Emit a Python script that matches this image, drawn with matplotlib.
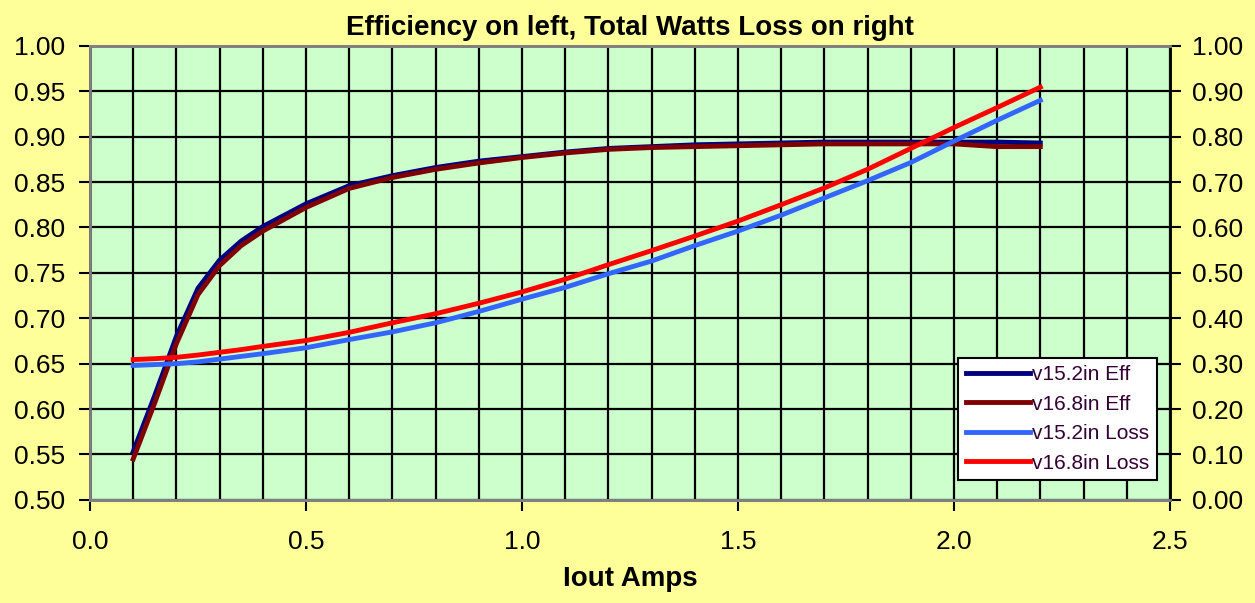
import matplotlib
matplotlib.use('Agg')
import matplotlib.pyplot as plt
from matplotlib.ticker import MultipleLocator

plt.rcParams['font.family'] = ['Liberation Sans', 'DejaVu Sans']

# Iout (A)
iout = [0.1, 0.15, 0.2, 0.25, 0.3, 0.35, 0.4,
        0.5, 0.6, 0.7, 0.8, 0.9, 1.0, 1.1, 1.2, 1.3, 1.4, 1.5,
        1.6, 1.7, 1.8, 1.9, 2.0, 2.1, 2.2]

# efficiency (left axis)
eff_152 = [0.553, 0.615, 0.680, 0.733, 0.764, 0.785, 0.801,
           0.826, 0.846, 0.857, 0.866, 0.873, 0.878, 0.883, 0.887, 0.889, 0.891, 0.892,
           0.893, 0.894, 0.894, 0.894, 0.894, 0.894, 0.893]
eff_168 = [0.545, 0.607, 0.672, 0.726, 0.758, 0.780, 0.796,
           0.822, 0.843, 0.855, 0.864, 0.871, 0.877, 0.882, 0.886, 0.888, 0.889, 0.890,
           0.891, 0.892, 0.892, 0.892, 0.892, 0.889, 0.889]

# total watts loss (right axis)
loss_152 = [0.296, 0.298, 0.300, 0.304, 0.310, 0.316, 0.322,
            0.335, 0.353, 0.370, 0.390, 0.415, 0.442, 0.468, 0.498, 0.526, 0.560, 0.592,
            0.627, 0.665, 0.703, 0.743, 0.790, 0.836, 0.880]
loss_168 = [0.309, 0.311, 0.314, 0.319, 0.325, 0.331, 0.338,
            0.351, 0.369, 0.390, 0.410, 0.433, 0.458, 0.486, 0.518, 0.549, 0.581, 0.614,
            0.650, 0.687, 0.728, 0.774, 0.820, 0.864, 0.909]

fig = plt.figure(figsize=(12.55, 6.03), dpi=100, facecolor='#FFFF99')
ax = fig.add_axes([0.0717, 0.171, 0.8605, 0.753])
ax.set_facecolor('#CCFFCC')
ax2 = ax.twinx()

l1, = ax.plot(iout, eff_152, color='#000080', lw=3.5, label='v15.2in Eff')
l2, = ax.plot(iout, eff_168, color='#800000', lw=3.5, label='v16.8in Eff')
l3, = ax2.plot(iout, loss_152, color='#3366FF', lw=3.5, label='v15.2in Loss')
l4, = ax2.plot(iout, loss_168, color='#FF0000', lw=3.5, label='v16.8in Loss')

ax.set_xlim(0, 2.5)
ax.set_ylim(0.5, 1.0)
ax2.set_ylim(0, 1.0)

ax.xaxis.set_major_locator(MultipleLocator(0.5))
ax.xaxis.set_minor_locator(MultipleLocator(0.1))
ax.yaxis.set_major_locator(MultipleLocator(0.05))
ax2.yaxis.set_major_locator(MultipleLocator(0.1))
ax.xaxis.set_major_formatter(lambda v, p: f'{v:.1f}')
ax.yaxis.set_major_formatter(lambda v, p: f'{v:.2f}')
ax2.yaxis.set_major_formatter(lambda v, p: f'{v:.2f}')

ax.grid(True, which='both', axis='x', color='black', lw=1.6)
ax.grid(True, which='major', axis='y', color='black', lw=1.6)
ax.set_axisbelow(True)

ax.tick_params(axis='both', which='major', labelsize=19, length=8, width=1.5, direction='out', color='black')
ax.tick_params(axis='y', pad=10)
ax.tick_params(axis='x', which='minor', length=0)
ax.tick_params(axis='x', pad=14)
ax2.tick_params(axis='y', labelsize=19, length=8, width=1.5, direction='out', pad=8)

for a in (ax, ax2):
    for s in a.spines.values():
        s.set_color('#808080')
        s.set_linewidth(2)
ax.spines['left'].set_color('black')
ax2.spines['right'].set_color('black')

ax.set_title('Efficiency on left, Total Watts Loss on right', fontsize=20, fontweight='bold', pad=8)
ax.set_xlabel('Iout Amps', fontsize=20, fontweight='bold', labelpad=8)

leg = ax2.legend(handles=[l1, l2, l3, l4], loc='lower left', bbox_to_anchor=(0.804, 0.044),
                 fontsize=15, frameon=True, fancybox=False, framealpha=1,
                 edgecolor='black', handlelength=3.1, handletextpad=0.1,
                 labelspacing=0.5, borderpad=0.35, borderaxespad=0,
                 labelcolor='#330033')
leg.get_frame().set_linewidth(1.5)

fig.savefig('out.png', dpi=100, facecolor=fig.get_facecolor())
